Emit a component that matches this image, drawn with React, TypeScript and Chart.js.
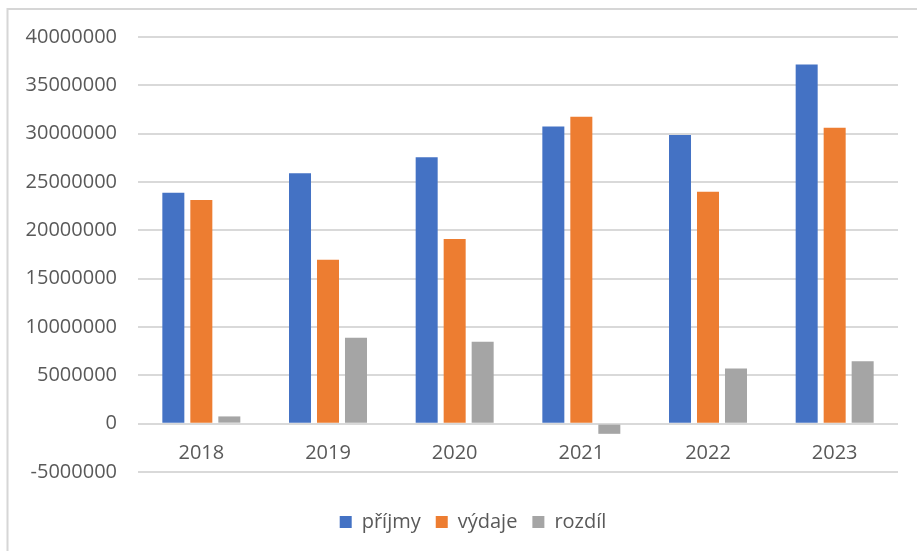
import React, { useEffect, useRef } from "react";
import { Chart, registerables } from "chart.js";

Chart.register(...registerables);

// ---- data ----
const categories = ["2018", "2019", "2020", "2021", "2022", "2023"];
const seriesNames = ["příjmy", "výdaje", "rozdíl"];
const prijmy = [23900000, 25900000, 27550000, 30750000, 29850000, 37150000];
const vydaje = [23150000, 16950000, 19100000, 31750000, 24000000, 30600000];
const rozdil = [750000, 8880000, 8470000, -1050000, 5700000, 6450000];
const Y_MIN = -5000000;
const Y_MAX = 40000000;
const Y_STEP = 5000000;

const colors = ["#4472C4", "#ED7D31", "#A5A5A5"];
const FONT = "'Open Sans', 'Liberation Sans', sans-serif";
const TEXT = "#595959";
const GRID = "#d9d9d9";

export default function App() {
  const ref = useRef<HTMLCanvasElement | null>(null);

  useEffect(() => {
    if (!ref.current) return;
    const frame = {
      id: "frame",
      afterLayout(chart: any) {
        if (chart.legend) {
          chart.legend.left += 30;
        }
      },
      beforeDraw(chart: any) {
        const ctx = chart.ctx;
        ctx.save();
        ctx.fillStyle = "#ffffff";
        ctx.fillRect(0, 0, chart.width, chart.height);
        ctx.strokeStyle = "#d6d6d6";
        ctx.lineWidth = 2;
        ctx.beginPath();
        ctx.moveTo(7.5, chart.height);
        ctx.lineTo(7.5, 9);
        ctx.lineTo(chart.width, 9);
        ctx.stroke();
        ctx.restore();
      },
    };
    const data = [prijmy, vydaje, rozdil];
    const chart = new Chart(ref.current, {
      type: "bar",
      data: {
        labels: categories,
        datasets: seriesNames.map((name, i) => ({
          label: name,
          data: data[i],
          backgroundColor: colors[i],
          borderWidth: 0,
          categoryPercentage: 0.663,
          barPercentage: 0.786,
        })),
      },
      options: {
        animation: false,
        responsive: false,
        maintainAspectRatio: false,
        layout: { padding: { left: 18, right: 19, top: 37, bottom: 9 } },
        font: { family: FONT },
        plugins: {
          tooltip: { enabled: false },
          legend: {
            position: "bottom",
            title: { display: true, text: " ", font: { size: 5, lineHeight: 1 }, padding: { top: 20, bottom: 0 } },
            labels: {
              boxWidth: 12,
              boxHeight: 12,
              padding: 15,
              color: TEXT,
              font: { family: FONT, size: 20 },
            },
          },
        },
        scales: {
          x: {
            position: { y: 0 } as any,
            grid: { display: false, drawTicks: false },
            border: { display: false },
            ticks: { color: TEXT, font: { family: FONT, size: 20 }, padding: 18 },
          },
          y: {
            min: Y_MIN,
            max: Y_MAX,
            grid: { color: GRID, lineWidth: 2, drawTicks: false },
            border: { display: false },
            ticks: {
              stepSize: Y_STEP,
              color: TEXT,
              font: { family: FONT, size: 20 },
              padding: 21,
              callback: (v: any) => String(v),
            },
            afterFit: (scale: any) => {
              scale.width = 120;
            },
          },
        },
      },
      plugins: [frame],
    } as any);
    return () => chart.destroy();
  }, []);

  return (
    <canvas
      ref={ref}
      width={917}
      height={551}
      style={{ position: "fixed", left: 0, top: 0, width: 917, height: 551 }}
    />
  );
}
